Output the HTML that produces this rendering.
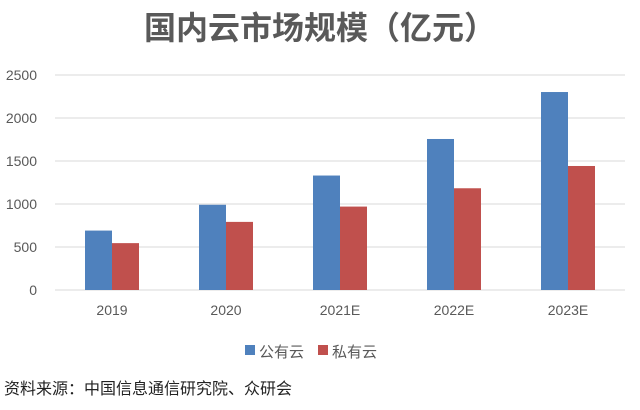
<!DOCTYPE html>
<html><head><meta charset="utf-8"><style>
body{margin:0;background:#fff;}
svg text{font-family:"Liberation Sans","Noto Sans CJK SC",sans-serif;}
</style></head><body>
<svg width="640" height="405" xmlns="http://www.w3.org/2000/svg">
<rect width="640" height="405" fill="#fff"/>
<text x="320" y="39" text-anchor="middle" font-size="32" font-weight="bold" fill="#595959">国内云市场规模（亿元）</text>
<g id="grid"></g><g id="bars"></g><g id="ylab"></g><g id="xlab"></g>
<g>
<rect x="245" y="345" width="10" height="10" fill="#4f81bd"/>
<text x="259" y="357" font-size="15" fill="#595959">公有云</text>
<rect x="318" y="345" width="10" height="10" fill="#c0504d"/>
<text x="332" y="357" font-size="15" fill="#595959">私有云</text>
</g>
<text x="4" y="394" font-size="16" fill="#222">资料来源：中国信息通信研究院、众研会</text>
</svg>
<script>
const categories=["2019","2020","2021E","2022E","2023E"];
const publicCloud=[691,991,1331,1756,2302];
const privateCloud=[545,792,970,1183,1442];
const yTicks=[0,500,1000,1500,2000,2500];
const NS="http://www.w3.org/2000/svg";
const x0=55,x1=625,y0=290,yTop=75,yMax=2500;
const y=v=>y0-(v/yMax)*(y0-yTop);
const band=(x1-x0)/categories.length;
const cx=i=>x0+band*(i+0.5);
function mk(t,a,p){const e=document.createElementNS(NS,t);for(const k in a)e.setAttribute(k,a[k]);p.appendChild(e);return e;}
const g=document.getElementById('grid'),b=document.getElementById('bars'),yl=document.getElementById('ylab'),xl=document.getElementById('xlab');
yTicks.forEach(v=>{
const l=mk('line',{x1:x0,x2:x1,y1:y(v),y2:y(v),stroke:'#d9d9d9','stroke-width':1},g);


const t=mk('text',{x:37,y:y(v)+5,'text-anchor':'end','font-size':14,fill:'#595959'},yl);
t.textContent=v;


});
const bw=27;
categories.forEach((c,i)=>{
const r1=mk('rect',{x:cx(i)-bw,y:y(publicCloud[i]),width:bw,height:y0-y(publicCloud[i]),fill:'#4f81bd'},b);


const r2=mk('rect',{x:cx(i),y:y(privateCloud[i]),width:bw,height:y0-y(privateCloud[i]),fill:'#c0504d'},b);


const t=mk('text',{x:cx(i),y:315,'text-anchor':'middle','font-size':14,fill:'#595959'},xl);
t.textContent=c;


});
</script>
</body></html>
